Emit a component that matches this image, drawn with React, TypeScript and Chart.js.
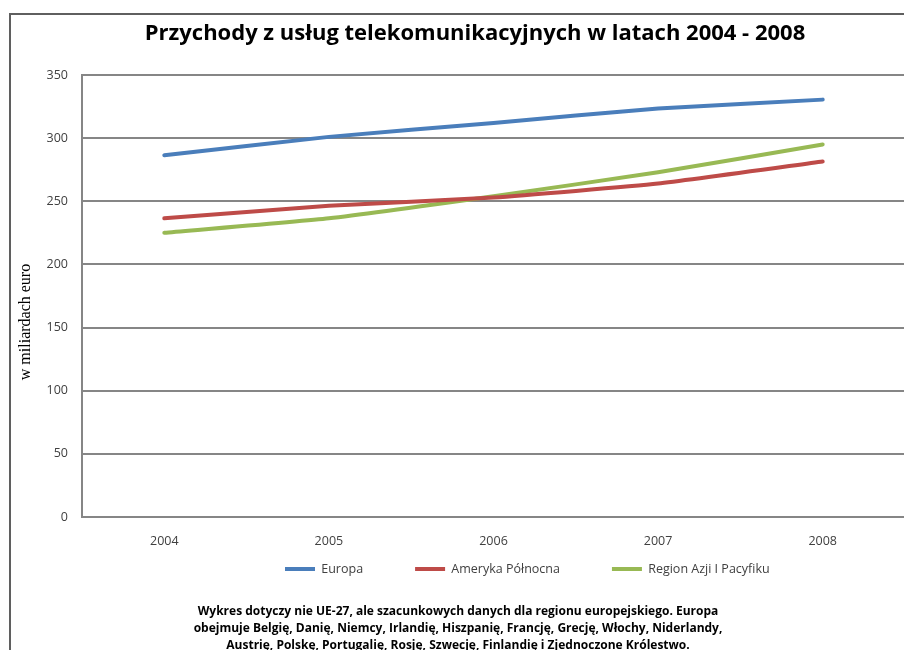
import React, { useEffect, useRef } from 'react';
import { Chart, registerables } from 'chart.js';

Chart.register(...registerables);

// ---- data ----
const years = ['2004', '2005', '2006', '2007', '2008'];
const europa = [286.5, 301, 312, 323.5, 330.5];
const amerykaPolnocna = [236.5, 246.5, 253, 264, 281.5];
const regionAzji = [225, 236.5, 254, 273, 295];
const seriesNames = ['Europa', 'Ameryka Północna', 'Region Azji I Pacyfiku'];
const seriesColors = ['#4A7EBB', '#BE4B48', '#98B954'];
const yTicks = [0, 50, 100, 150, 200, 250, 300, 350];
const titleText = 'Przychody z usług telekomunikacyjnych w latach 2004 - 2008';
const yAxisTitle = 'w miliardach euro';
const footnoteLines = [
  'Wykres dotyczy nie UE-27, ale szacunkowych danych dla regionu europejskiego. Europa',
  'obejmuje Belgię, Danię, Niemcy, Irlandię, Hiszpanię, Francję, Grecję, Włochy, Niderlandy,',
  'Austrię, Polskę, Portugalię, Rosję, Szwecję, Finlandię i Zjednoczone Królestwo.',
];

// ---- layout constants ----
const CANVAS_W = 950;
const CANVAS_H = 700;
const PLOT_RIGHT = 905;
const Y_AXIS_W = 82;
const X_AXIS_H = 31;
const LEGEND_PAD = 52;
const LEGEND_FONT = 12.5;
const FOOT_FONT = 12;
const FOOT_LINE_H = 17;
const TITLE_FONT = 22;
const TITLE_CENTER_X = 475;
const LEGEND_START_X = 285;
const LEGEND_CENTER_Y = 569;
const FOOT_CENTER_X = 458;
const FOOT_FIRST_Y = 611.5;
const YTITLE_CENTER_Y = 322;

const placeBoxes = {
  id: 'placeBoxes',
  afterLayout(chart: any) {
    const title = chart.titleBlock;
    if (title) {
      const w = title.right - title.left;
      title.left = TITLE_CENTER_X - w / 2;
      title.right = title.left + w;
    }
    const legend = chart.legend;
    if (legend) {
      const h = legend.bottom - legend.top;
      legend.top = LEGEND_CENTER_Y - LEGEND_PAD - LEGEND_FONT / 2;
      legend.bottom = legend.top + h;
      const w = legend.right - legend.left;
      const lw = legend.lineWidths ? legend.lineWidths[0] : 0;
      const sum = 2 * LEGEND_START_X - LEGEND_PAD + lw;
      legend.left = (sum - w) / 2;
      legend.right = legend.left + w;
    }
    for (const box of chart.boxes) {
      if (box !== legend && box !== title && box.position === 'bottom' && !box.axis) {
        const h = box.bottom - box.top;
        box.top = FOOT_FIRST_Y - FOOT_LINE_H / 2;
        box.bottom = box.top + h;
        const w = box.right - box.left;
        box.left = FOOT_CENTER_X - w / 2;
        box.right = box.left + w;
      }
    }
    const y = chart.scales.y;
    if (y && !y.__wrappedTitle) {
      const orig = y.drawTitle;
      y.drawTitle = function (...args: any[]) {
        const t = this.top;
        const b = this.bottom;
        const d = YTITLE_CENTER_Y - (t + b) / 2;
        this.top = t + d;
        this.bottom = b + d;
        try {
          orig.apply(this, args);
        } finally {
          this.top = t;
          this.bottom = b;
        }
      };
      y.__wrappedTitle = true;
    }
  },
};

const framePlugin = {
  id: 'frame',
  beforeDraw(chart: any) {
    const ctx = chart.ctx;
    ctx.save();
    ctx.strokeStyle = '#5f5f5f';
    ctx.lineWidth = 2;
    ctx.beginPath();
    ctx.moveTo(10, 700);
    ctx.lineTo(10, 14);
    ctx.lineTo(CANVAS_W, 14);
    ctx.stroke();
    ctx.restore();
  },
};

export default function App() {
  const ref = useRef<HTMLCanvasElement | null>(null);

  useEffect(() => {
    if (!ref.current) return;
    const seriesData = [europa, amerykaPolnocna, regionAzji];
    const chart = new Chart(ref.current, {
      type: 'line',
      data: {
        labels: years,
        datasets: seriesData.map((d, i) => ({
          label: seriesNames[i],
          data: d,
          borderColor: seriesColors[i],
          backgroundColor: seriesColors[i],
          borderWidth: 4,
          pointRadius: 0,
          pointHoverRadius: 0,
          tension: 0.15,
          borderCapStyle: 'round' as const,
          fill: false,
        })),
      },
      options: {
        responsive: false,
        animation: false,
        layout: { padding: { left: 0, right: CANVAS_W - PLOT_RIGHT, top: 0, bottom: 26.5 } },
        scales: {
          x: {
            type: 'category',
            offset: true,
            grid: { display: false, drawTicks: false },
            border: { display: true, color: '#868686', width: 2 },
            ticks: {
              color: '#404040',
              font: { family: 'Open Sans', size: 12.5 },
              padding: 17,
            },
            afterFit: (s: any) => { s.height = X_AXIS_H; },
          },
          y: {
            min: yTicks[0],
            max: yTicks[yTicks.length - 1],
            grid: { color: '#868686', lineWidth: 2, drawTicks: false },
            border: { display: true, color: '#868686', width: 2 },
            ticks: {
              stepSize: yTicks[1] - yTicks[0],
              color: '#404040',
              font: { family: 'Open Sans', size: 12.5 },
              padding: 14,
            },
            title: {
              display: true,
              text: yAxisTitle,
              color: '#000000',
              font: { family: 'Liberation Serif', size: 16 },
              padding: { top: 16, bottom: 0 },
            },
            afterFit: (s: any) => { s.width = Y_AXIS_W; },
          },
        },
        plugins: {
          title: {
            display: true,
            text: titleText,
            color: '#000000',
            font: { family: 'Open Sans', size: TITLE_FONT, weight: 'bold', lineHeight: 1.2 },
            padding: { top: 20.8, bottom: 27.8 },
          },
          subtitle: {
            display: true,
            position: 'bottom',
            text: footnoteLines,
            color: '#000000',
            font: { family: 'Open Sans', size: FOOT_FONT, weight: 'bold', lineHeight: FOOT_LINE_H + 'px' },
            padding: 0,
          },
          legend: {
            display: true,
            position: 'bottom',
            labels: {
              usePointStyle: true,
              pointStyle: 'line',
              pointStyleWidth: 30,
              color: '#404040',
              font: { family: 'Open Sans', size: LEGEND_FONT },
              padding: LEGEND_PAD,
            },
          },
          tooltip: { enabled: false },
        },
      },
      plugins: [placeBoxes, framePlugin],
    });
    return () => chart.destroy();
  }, []);

  return (
    <div style={{ position: 'absolute', left: 0, top: 0, width: 904, height: 650, overflow: 'hidden', background: '#ffffff' }}>
      <canvas ref={ref} width={CANVAS_W} height={CANVAS_H} style={{ display: 'block', width: CANVAS_W, height: CANVAS_H }} />
    </div>
  );
}
